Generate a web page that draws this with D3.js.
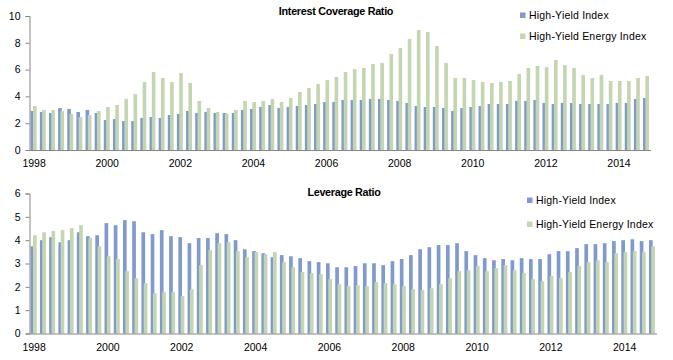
<!DOCTYPE html>
<html><head><meta charset="utf-8">
<script src="https://cdn.jsdelivr.net/npm/d3@7"></script>
<style>
html,body{margin:0;padding:0;background:#fff;}
svg text{font-family:"Liberation Sans",Arial,sans-serif;fill:#000;}
</style></head>
<body>
<svg id="chart" width="673" height="360"></svg>
<script>
const years = d3.range(1998, 2015);
const quarters = years.flatMap(y => ["Q1","Q2","Q3","Q4"].map(q => y + q));
const tickLabels = ["1998","2000","2002","2004","2006","2008","2010","2012","2014"];
const seriesNames = ["High-Yield Index","High-Yield Energy Index"];

const icrHY = [2.91,2.84,2.76,3.13, 3.06,2.84,2.99,2.76, 2.24,2.31,2.16,2.16, 2.39,2.46,2.39,2.61,
  2.69,2.91,2.76,2.84, 2.76,2.76,2.76,2.99, 3.06,3.21,3.36,3.13, 3.21,3.28,3.36,3.43,
  3.58,3.58,3.73,3.73, 3.73,3.81,3.81,3.73, 3.66,3.51,3.28,3.21, 3.21,3.13,2.91,3.13,
  3.21,3.28,3.43,3.43, 3.43,3.66,3.66,3.73, 3.51,3.43,3.51,3.51, 3.43,3.43,3.43,3.43,
  3.51,3.51,3.81,3.88];
const icrEnergy = [3.28,2.99,2.99,2.91, 2.69,2.46,2.61,2.91, 3.21,3.36,3.81,4.18, 5.07,5.82,5.37,5.07,
  5.75,5.00,3.66,3.13, 2.84,2.69,2.99,3.66, 3.58,3.66,3.81,3.58, 3.88,4.33,4.63,4.93,
  5.22,5.45,5.82,6.04, 6.12,6.42,6.49,7.16, 7.61,8.28,8.96,8.81, 7.76,6.49,5.37,5.37,
  5.22,5.07,5.00,5.07, 5.15,5.67,6.12,6.27, 6.19,6.72,6.34,6.12, 5.60,5.37,5.60,5.15,
  5.15,5.15,5.37,5.52];
const levHY = [3.74,4.00,4.13,3.91, 4.00,4.34,4.17,4.21, 4.73,4.64,4.86,4.81, 4.34,4.26,4.43,4.17,
  4.13,3.87,4.09,4.09, 4.30,4.26,4.00,3.61, 3.53,3.44,3.27,3.36, 3.31,3.23,3.10,3.06,
  3.01,2.84,2.84,2.89, 3.01,3.01,2.93,3.10, 3.19,3.36,3.61,3.70, 3.79,3.79,3.87,3.53,
  3.36,3.23,3.14,3.19, 3.14,3.23,3.19,3.19, 3.40,3.53,3.53,3.66, 3.83,3.83,3.87,3.96,
  4.00,4.04,3.96,4.00];
const levEnergy = [4.21,4.34,4.39,4.43, 4.51,4.64,4.09,3.74, 3.31,3.19,2.67,2.37, 2.16,1.73,1.77,1.77,
  1.60,1.90,2.93,3.57, 3.87,3.91,3.53,3.27, 3.49,3.40,3.49,3.06, 2.84,2.63,2.59,2.54,
  2.33,2.11,2.03,2.07, 2.03,2.20,2.16,2.11, 2.03,1.90,1.86,1.94, 2.11,2.37,2.67,2.71,
  2.89,2.67,2.80,2.93, 2.71,2.59,2.33,2.24, 2.46,2.37,2.63,2.89, 3.06,3.14,3.06,3.44,
  3.49,3.53,3.49,3.74];

const colors = ["#819ACD", "#C4D6B1"];
const axisColor = "#868686";
const svg = d3.select("#chart");

const panels = [
  {title:"Interest Coverage Ratio", a:icrHY, b:icrEnergy, yMax:10, yTicks:[0,2,4,6,8,10],
   x0:29.5, x1:651, yTop:16, yBot:150, titleX:336, titleY:14.5, legX:520, legY:[15.5,36.5], xLabY:167},
  {title:"Leverage Ratio", a:levHY, b:levEnergy, yMax:6, yTicks:[0,1,2,3,4,5,6],
   x0:29.5, x1:657, yTop:193.5, yBot:333.5, titleX:344, titleY:196, legX:527, legY:[200.5,224.5], xLabY:350.5}
];

panels.forEach(p => {
  const g = svg.append("g");
  const x = d3.scaleBand().domain(quarters).range([p.x0, p.x1]).padding(0);
  const y = d3.scaleLinear().domain([0, p.yMax]).range([p.yBot, p.yTop]);
  const bw = x.bandwidth();

  // bars: blue then green overlapping
  [p.a, p.b].forEach((vals, si) => {
    g.append("g").selectAll("rect").data(vals).join("rect")
      .attr("x", (d,i) => x(quarters[i]) + bw*(0.13 + si*0.25))
      .attr("width", bw*0.4)
      .attr("y", d => y(d))
      .attr("height", d => y(0) - y(d))
      .attr("fill", colors[si]);
  });

  // y axis
  const ya = g.append("g").attr("transform", `translate(${p.x0},0)`)
    .call(d3.axisLeft(y).tickValues(p.yTicks).tickSize(4).tickPadding(5).tickFormat(d3.format("d")));
  ya.selectAll("path,line").attr("stroke", axisColor);
  ya.selectAll("text").style("font-size","10.5px").attr("fill","#000");

  // x axis line
  g.append("line").attr("x1", p.x0).attr("x2", p.x1).attr("y1", p.yBot+0.5).attr("y2", p.yBot+0.5)
    .attr("stroke", axisColor);
  g.selectAll("text.xl").data(tickLabels).join("text").attr("class","xl")
    .attr("x", (d,i) => x(quarters[i*8]) + bw/2)
    .attr("y", p.xLabY)
    .attr("text-anchor","middle")
    .style("font-size","10.5px")
    .text(d => d);

  // title
  g.append("text").attr("x", p.titleX).attr("y", p.titleY).attr("text-anchor","middle")
    .style("font-size","10.8px").style("font-weight","bold").style("letter-spacing","-0.3px")
    .text(p.title);

  // legend
  seriesNames.forEach((n, i) => {
    g.append("rect").attr("x", p.legX).attr("y", p.legY[i]-3).attr("width",5.5).attr("height",5.5)
      .attr("fill", colors[i]);
    g.append("text").attr("x", p.legX+9).attr("y", p.legY[i]+3.8)
      .style("font-size","10.5px").style("letter-spacing","0.2px").text(n);
  });
});
</script>
</body></html>
